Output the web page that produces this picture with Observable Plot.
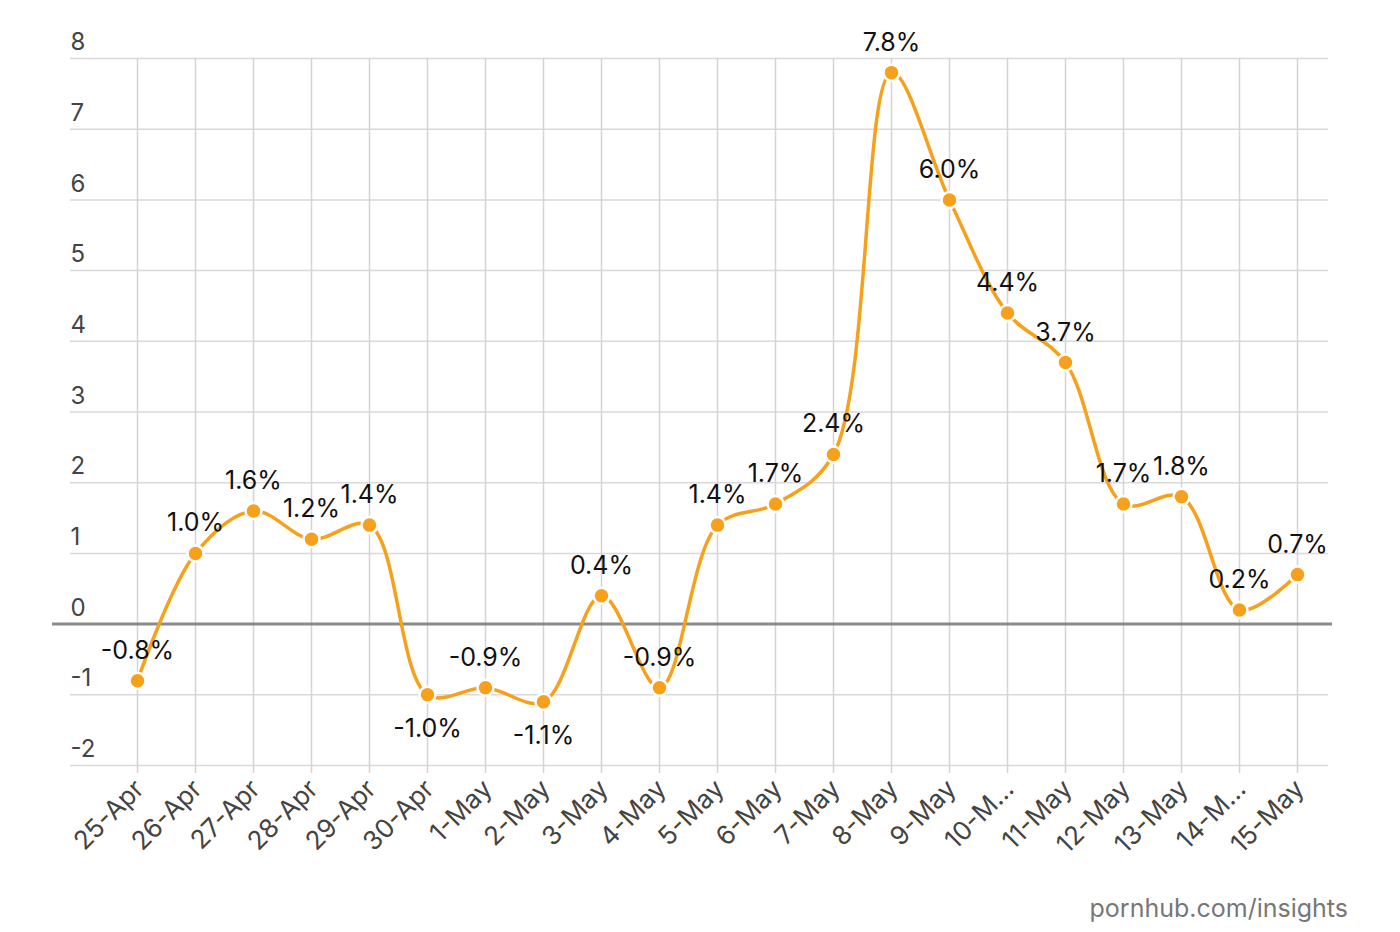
<!DOCTYPE html>
<html><head><meta charset="utf-8">
<script src="https://cdn.jsdelivr.net/npm/d3@7"></script>
<script src="https://cdn.jsdelivr.net/npm/@observablehq/plot@0.6"></script>
<style>
body{margin:0;background:#fff;font-family:Inter,sans-serif}
#wrap{position:relative;width:1400px;height:932px}
#cap{position:absolute;right:52px;top:888px;font-size:25px;color:#777;line-height:40px}
</style></head>
<body><div id="wrap"><div id="chart"></div><div id="cap">pornhub.com/insights</div></div>
<script>
const dates = ["25-Apr","26-Apr","27-Apr","28-Apr","29-Apr","30-Apr","1-May","2-May","3-May","4-May","5-May","6-May","7-May","8-May","9-May","10-May","11-May","12-May","13-May","14-May","15-May"];
const tickLabels = ["25-Apr","26-Apr","27-Apr","28-Apr","29-Apr","30-Apr","1-May","2-May","3-May","4-May","5-May","6-May","7-May","8-May","9-May","10-M…","11-May","12-May","13-May","14-M…","15-May"];
const values = [-0.8,1.0,1.6,1.2,1.4,-1.0,-0.9,-1.1,0.4,-0.9,1.4,1.7,2.4,7.8,6.0,4.4,3.7,1.7,1.8,0.2,0.7];
const valueLabels = ["-0.8%","1.0%","1.6%","1.2%","1.4%","-1.0%","-0.9%","-1.1%","0.4%","-0.9%","1.4%","1.7%","2.4%","7.8%","6.0%","4.4%","3.7%","1.7%","1.8%","0.2%","0.7%"];
const labelsBelow = ["30-Apr","2-May"];
const yTicks = [-2,-1,0,1,2,3,4,5,6,7,8];

const data = dates.map((d,i)=>({date:d, value:values[i], label:valueLabels[i], tick:tickLabels[i]}));
const orange = "#f7a01c";

const chart = Plot.plot({
  width: 1400, height: 880,
  marginLeft: 70, marginRight: 72, marginTop: 58, marginBottom: 115,
  style: {fontFamily: "Inter, sans-serif", background: "white"},
  x: {type: "point", domain: dates, padding: 0, insetLeft: 65, insetRight: 30, axis: null},
  y: {domain: [-2, 8], axis: null},
  marks: [
    Plot.ruleY(yTicks.filter(t => t !== 0), {stroke: "#d9d9d9", strokeWidth: 1.5}),
    Plot.ruleX(dates, {stroke: "#d4d4d4", strokeWidth: 1.5, insetBottom: -8}),
    Plot.ruleY([0], {stroke: "#8a8a8a", strokeWidth: 3, insetLeft: -18, insetRight: -4}),
    Plot.text(yTicks, {y: d => d, text: d => String(d), frameAnchor: "left", textAnchor: "start", dy: -16, fontSize: 24, fill: "#444"}),
    Plot.lineY(data, {x: "date", y: "value", curve: "catmull-rom", stroke: orange, strokeWidth: 3.5}),
    Plot.dot(data, {x: "date", y: "value", r: 8, fill: orange, stroke: "white", strokeWidth: 2.5}),
    Plot.text(data.filter(d => !labelsBelow.includes(d.date)), {x: "date", y: "value", text: "label", dy: -30, fontSize: 25, fill: "#111"}),
    Plot.text(data.filter(d => labelsBelow.includes(d.date)), {x: "date", y: "value", text: "label", dy: 34, fontSize: 25, fill: "#111"}),
    Plot.text(data, {x: "date", text: "tick", frameAnchor: "bottom", rotate: -45, textAnchor: "end", dx: 8, dy: 25, fontSize: 26, fill: "#444"})
  ]
});
document.getElementById("chart").appendChild(chart);
</script>
</body></html>
